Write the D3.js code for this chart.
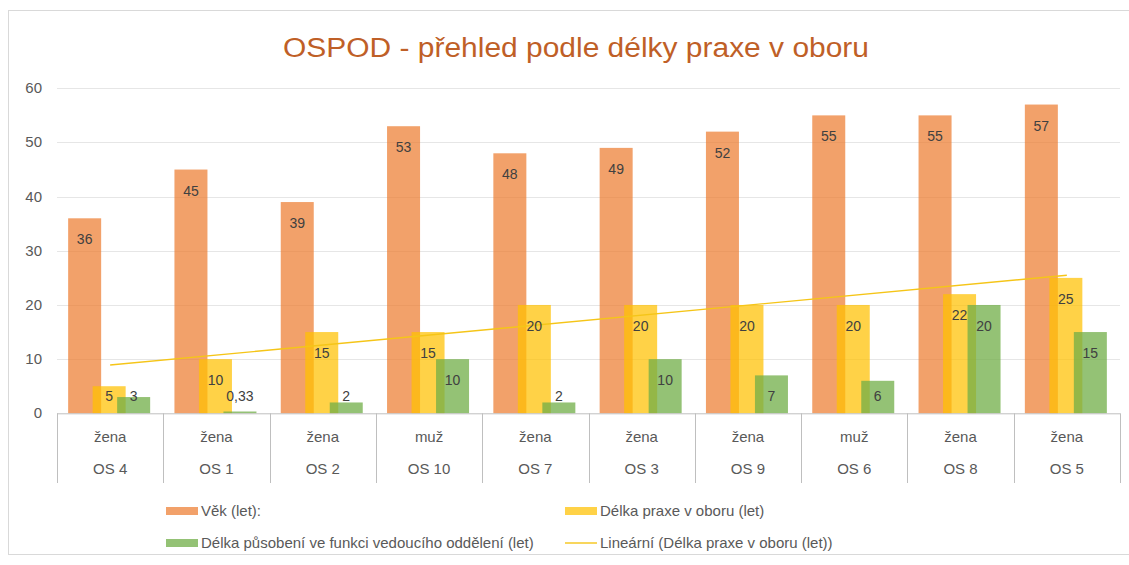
<html>

<head>
    <meta charset="utf-8">
</head>

<body>
    <svg id='chart'></svg>
</body>
<style>
    body {
        margin: 0;
        background: #fff;
    }

    svg {
        display: block;
        font-family: "Liberation Sans", Arial, sans-serif;
    }

    .grid line {
        stroke: #e6e6e6;
        stroke-width: 1px;
    }

    .tickLabel {
        fill: #595959;
        font-size: 15px;
    }

    .barLabel {
        fill: #404040;
        font-size: 14px;
    }

    .legendText {
        fill: #595959;
        font-size: 15px;
    }
</style>
<script src='https://d3js.org/d3.v7.min.js'></script>
<script>
    var width = 1129;
    var height = 565;

    // data
    var people = ["OS 4", "OS 1", "OS 2", "OS 10", "OS 7", "OS 3", "OS 9", "OS 6", "OS 8", "OS 5"];
    var gender = ["žena", "žena", "žena", "muž", "žena", "žena", "žena", "muž", "žena", "žena"];
    var age = [36, 45, 39, 53, 48, 49, 52, 55, 55, 57];
    var practice = [5, 10, 15, 15, 20, 20, 20, 20, 22, 25];
    var leading = [3, 0.33, 2, 10, 2, 10, 7, 6, 20, 15];
    var yTicks = [0, 10, 20, 30, 40, 50, 60];

    var seriesNames = [
        "Věk (let):",
        "Délka praxe v oboru (let)",
        "Délka působení ve funkci vedoucího  oddělení (let)"
    ];
    var trendName = "Lineární (Délka praxe v oboru (let))";
    var seriesColors = ["#ED7D31", "#FFC000", "#70AD47"];
    var seriesValues = [age, practice, leading];

    var plot = { left: 57, right: 1120, top: 88.3, bottom: 413.3 };

    var svg = d3.select("#chart").attr("width", width).attr("height", height);

    // chart border
    svg.append("rect")
        .attr("x", 8.5).attr("y", 10.5)
        .attr("width", 1140).attr("height", 544)
        .attr("fill", "#fff")
        .attr("stroke", "#d9d9d9");

    // title
    svg.append("text")
        .attr("x", 576).attr("y", 57)
        .attr("text-anchor", "middle")
        .attr("fill", "#BF5F27")
        .style("font-size", "27px")
        .attr("textLength", 586)
        .attr("lengthAdjust", "spacingAndGlyphs")
        .text("OSPOD - přehled podle délky praxe v oboru");

    var x = d3.scaleBand().domain(people).range([plot.left, plot.right]).padding(0);
    var y = d3.scaleLinear().domain([0, 60]).range([plot.bottom, plot.top]);
    var offset = d3.scalePoint().domain([0, 1, 2]).range([-24.5, 24.5]);
    var barW = 33;
    var shift = -1;

    // gridlines
    svg.append("g").attr("class", "grid")
        .selectAll("line")
        .data(yTicks.filter(function (d) { return d > 0; }))
        .enter().append("line")
        .attr("x1", plot.left).attr("x2", plot.right)
        .attr("y1", function (d) { return Math.round(y(d)) + 0.5; })
        .attr("y2", function (d) { return Math.round(y(d)) + 0.5; });

    // y tick labels
    svg.append("g")
        .selectAll("text")
        .data(yTicks)
        .enter().append("text")
        .attr("class", "tickLabel")
        .attr("x", 42)
        .attr("y", function (d) { return y(d) + 5; })
        .attr("text-anchor", "end")
        .text(function (d) { return d; });

    // bars
    seriesValues.forEach(function (vals, s) {
        svg.append("g")
            .selectAll("rect")
            .data(vals)
            .enter().append("rect")
            .attr("x", function (d, i) { return x(people[i]) + x.bandwidth() / 2 + shift + offset(s) - barW / 2; })
            .attr("y", function (d) { return y(d); })
            .attr("width", barW)
            .attr("height", function (d) { return y(0) - y(d); })
            .attr("fill", seriesColors[s])
            .attr("fill-opacity", s == 2 ? 0.75 : 0.72);
    });

    // linear trend of practice length
    var n = practice.length;
    var mx = d3.mean(practice, function (d, i) { return i + 1; });
    var my = d3.mean(practice);
    var sxy = d3.sum(practice, function (d, i) { return (i + 1 - mx) * (d - my); });
    var sxx = d3.sum(practice, function (d, i) { return (i + 1 - mx) * (i + 1 - mx); });
    var slope = sxy / sxx;
    var icpt = my - slope * mx;

    svg.append("line")
        .attr("x1", x(people[0]) + x.bandwidth() / 2)
        .attr("x2", x(people[n - 1]) + x.bandwidth() / 2)
        .attr("y1", y(icpt + slope * 1))
        .attr("y2", y(icpt + slope * n))
        .attr("stroke", "#F5C518")
        .attr("stroke-width", 1.4);

    // value labels
    var fmt = function (v) { return String(v).replace(".", ","); };
    seriesValues.forEach(function (vals, s) {
        svg.append("g")
            .selectAll("text")
            .data(vals)
            .enter().append("text")
            .attr("class", "barLabel")
            .attr("text-anchor", "middle")
            .attr("x", function (d, i) { return x(people[i]) + x.bandwidth() / 2 + shift + offset(s); })
            .attr("y", function (d) { return Math.min(y(d) + 21, 396) + 5; })
            .text(fmt);
    });

    // category axis table
    var axisG = svg.append("g");
    axisG.append("line")
        .attr("x1", plot.left).attr("x2", plot.right)
        .attr("y1", plot.bottom + 0.5).attr("y2", plot.bottom + 0.5)
        .attr("stroke", "#bfbfbf");
    axisG.selectAll("line.sep")
        .data(people.concat(["end"]))
        .enter().append("line")
        .attr("class", "sep")
        .attr("x1", function (d, i) { return Math.round(plot.left + i * x.bandwidth()) + 0.5; })
        .attr("x2", function (d, i) { return Math.round(plot.left + i * x.bandwidth()) + 0.5; })
        .attr("y1", plot.bottom).attr("y2", 483)
        .attr("stroke", "#bfbfbf");
    axisG.selectAll("text.gender")
        .data(gender)
        .enter().append("text")
        .attr("class", "tickLabel")
        .attr("text-anchor", "middle")
        .attr("x", function (d, i) { return x(people[i]) + x.bandwidth() / 2; })
        .attr("y", 442)
        .text(function (d) { return d; });
    axisG.selectAll("text.person")
        .data(people)
        .enter().append("text")
        .attr("class", "tickLabel")
        .attr("text-anchor", "middle")
        .attr("x", function (d) { return x(d) + x.bandwidth() / 2; })
        .attr("y", 474)
        .text(function (d) { return d; });

    // legend
    var legendItems = [
        { name: seriesNames[0], color: seriesColors[0], kind: "bar", x: 166, y: 511, op: 0.72 },
        { name: seriesNames[1], color: seriesColors[1], kind: "bar", x: 565, y: 511, op: 0.72 },
        { name: seriesNames[2], color: seriesColors[2], kind: "bar", x: 166, y: 543, op: 0.75 },
        { name: trendName, color: "#F5C518", kind: "line", x: 565, y: 543, op: 1 }
    ];
    var lg = svg.append("g").selectAll("g")
        .data(legendItems)
        .enter().append("g")
        .attr("transform", function (d) { return "translate(" + d.x + "," + d.y + ")"; });
    lg.filter(function (d) { return d.kind == "bar"; })
        .append("rect")
        .attr("x", 0).attr("y", -4)
        .attr("width", 32).attr("height", 8)
        .attr("fill", function (d) { return d.color; })
        .attr("fill-opacity", function (d) { return d.op; });
    lg.filter(function (d) { return d.kind == "line"; })
        .append("line")
        .attr("x1", 0).attr("x2", 32)
        .attr("y1", 0).attr("y2", 0)
        .attr("stroke", function (d) { return d.color; })
        .attr("stroke-width", 1.4);
    lg.append("text")
        .attr("class", "legendText")
        .attr("x", 35)
        .attr("y", 5)
        .text(function (d) { return d.name; });
</script>

</html>
